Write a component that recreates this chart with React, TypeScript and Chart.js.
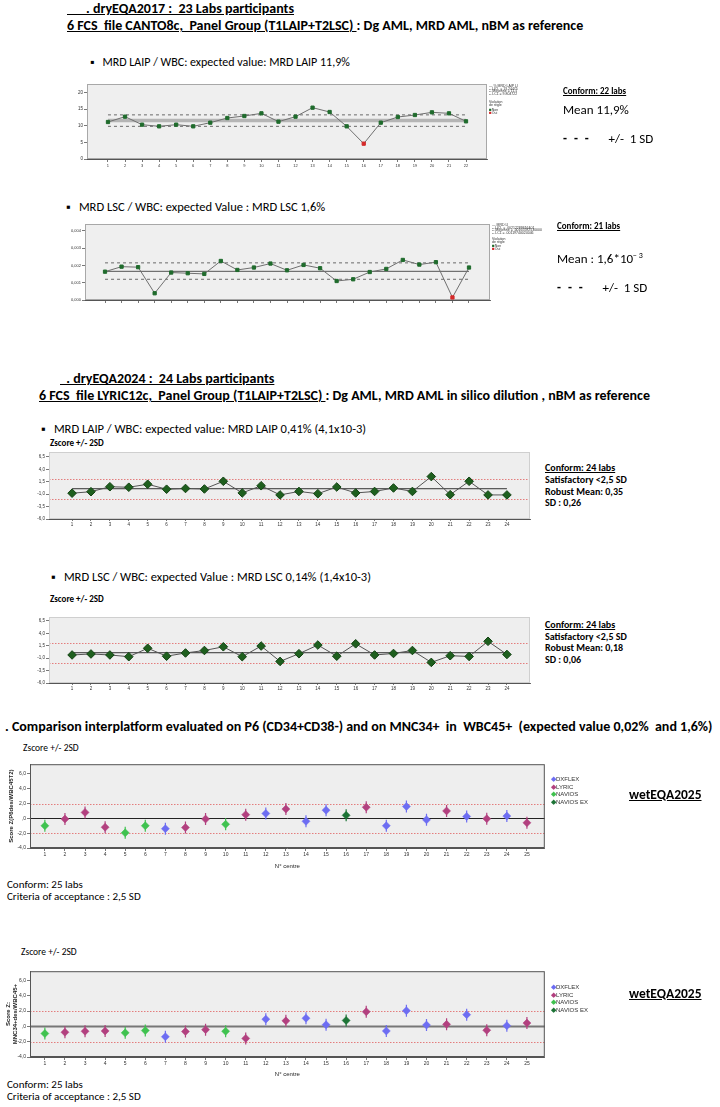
import React, { useEffect, useRef } from "react";
import { Chart, registerables } from "chart.js";
Chart.register(...registerables);

const FONT = "Carlito, 'Liberation Sans Narrow', 'DejaVu Sans Condensed', sans-serif";
const AXIS_FONT = "'Liberation Sans', Arial, sans-serif";

// ---------------- data: dryEQA2017 ----------------
const LAIP_2017 = [11.1, 12.7, 10.3, 9.8, 10.3, 9.8, 10.9, 12.3, 12.9, 13.7, 11.2, 12.7, 15.4, 14.1, 9.8, 4.6, 10.9, 12.6, 13.2, 14.0, 13.7, 11.3];
const LAIP_2017_VIOLATION = [16];
const LAIP_2017_MEAN = 11.52;
const LAIP_2017_UCL = 13.24;
const LAIP_2017_LCL = 9.8;
const LAIP_2017_Y_TICKS = [0, 5, 10, 15, 20];

const LSC_2017 = [0.00164, 0.00193, 0.0019, 0.00039, 0.00159, 0.00155, 0.00151, 0.00226, 0.00174, 0.00188, 0.00211, 0.00172, 0.00203, 0.00184, 0.0011, 0.0012, 0.00162, 0.0018, 0.00232, 0.00205, 0.00219, 0.00015, 0.00188];
const LSC_2017_VIOLATION = [22];
const LSC_2017_MEAN = 0.00166;
const LSC_2017_UCL = 0.00215;
const LSC_2017_LCL = 0.0012;
const LSC_2017_Y_TICKS = [0, 0.001, 0.002, 0.003, 0.004];

// ---------------- data: dryEQA2024 (z-scores) ----------------
const Z_LAIP_2024 = [-0.8, -0.5, 0.5, 0.4, 1.0, 0.0, 0.15, 0.05, 1.6, -0.75, 0.7, -1.15, -0.45, -0.9, 0.45, -0.75, -0.45, 0.25, -0.45, 2.55, -1.1, 1.6, -1.15, -1.15];
const Z_LAIP_2024_MEAN = 0.1;
const Z_LSC_2024 = [-0.35, -0.15, -0.35, -0.7, 1.0, -0.6, 0.05, 0.55, 1.3, -0.7, 1.45, -1.65, -0.1, 1.65, -0.6, 1.9, -0.35, -0.05, 0.55, -1.85, -0.5, -0.65, 2.4, -0.25];
const Z_LSC_2024_MEAN = 0.1;
const Z_2024_Y_TICKS = [-6, -3.5, -1, 1.5, 4, 6.5];
const Z_LIMITS = [-2, 2];

// ---------------- data: wetEQA2025 ----------------
const PLATFORMS = ["DXFLEX", "LYRIC", "NAVIOS", "NAVIOS EX"];
const CENTRE_PLATFORM = ["NAVIOS", "LYRIC", "LYRIC", "LYRIC", "NAVIOS", "NAVIOS", "DXFLEX", "LYRIC", "LYRIC", "NAVIOS", "LYRIC", "DXFLEX", "LYRIC", "DXFLEX", "DXFLEX", "NAVIOS EX", "LYRIC", "DXFLEX", "DXFLEX", "DXFLEX", "LYRIC", "DXFLEX", "LYRIC", "DXFLEX", "LYRIC"];
const Z_P6 = [-1.0, -0.1, 0.8, -1.2, -1.95, -1.0, -1.4, -1.25, -0.1, -0.8, 0.5, 0.65, 1.25, -0.4, 1.1, 0.4, 1.5, -1.0, 1.6, -0.2, 1.0, 0.25, -0.05, 0.3, -0.6];
const Z_MNC34 = [-0.94, -0.77, -0.64, -0.6, -0.85, -0.55, -1.36, -0.68, -0.43, -0.64, -1.57, 0.94, 0.72, 1.06, 0.21, 0.77, 1.91, -0.6, 2.04, 0.17, 0.26, 1.53, -0.51, 0.09, 0.43];
const Z_2025_Y_TICKS = [-4, -2, 0, 2, 4, 6];

// ---------------- styles ----------------
const PLATFORM_COLOR: Record<string, string> = {
  DXFLEX: "#6d6df2",
  LYRIC: "#b2407f",
  NAVIOS: "#3fc24f",
  "NAVIOS EX": "#1d7436",
};

const pts = (values: number[]) => values.map((y, i) => ({ x: i + 1, y }));
const flat = (n: number, y: number) => [{ x: 1, y }, { x: n, y }];
const range = (n: number) => Array.from({ length: n }, (_, i) => i + 1);
const comma = (v: number, d: number) => v.toFixed(d).replace(".", ",");

const panelPlugin = {
  id: "panel",
  beforeDraw(chart: any, _a: any, o: any) {
    const { ctx, chartArea: a } = chart;
    ctx.save();
    ctx.fillStyle = o.bg;
    ctx.fillRect(a.left, a.top, a.right - a.left, a.bottom - a.top);
    ctx.restore();
  },
  beforeDatasetsDraw(chart: any, _a: any, o: any) {
    const { ctx, chartArea: a } = chart;
    const ys = chart.scales.y;
    ctx.save();
    (o.hlines || []).forEach((h: any) => {
      const y = Math.round(ys.getPixelForValue(h.value)) + 0.5;
      ctx.strokeStyle = h.color;
      ctx.lineWidth = h.width;
      ctx.setLineDash(h.dash || []);
      ctx.beginPath();
      ctx.moveTo(a.left, y);
      ctx.lineTo(a.right, y);
      ctx.stroke();
    });
    ctx.setLineDash([]);
    ctx.strokeStyle = o.border;
    ctx.lineWidth = 1;
    ctx.strokeRect(a.left + 0.5, a.top + 0.5, a.right - a.left - 1, a.bottom - a.top - 1);
    ctx.restore();
  },
};

type Spec = {
  w: number; h: number; padL: number;
  area: { l: number; t: number; r: number; b: number };
  xMin: number; xMax: number; xTicks: number[]; showX: boolean; xFont: number; xTickLen: number;
  yMin: number; yMax: number; yTicks: number[]; yFmt: (v: number) => string; yFont: number;
  yTitle?: string | string[]; xTitle?: string;
  bg: string; border: string; hlines: any[]; datasets: any[];
};

function makeConfig(s: Spec): any {
  return {
    type: "line",
    data: { datasets: s.datasets },
    options: {
      animation: false,
      responsive: false,
      maintainAspectRatio: false,
      devicePixelRatio: 1,
      layout: { padding: { left: s.padL, top: s.area.t, right: s.w - s.area.r, bottom: 0 } },
      plugins: {
        legend: { display: false },
        tooltip: { enabled: false },
        panel: { bg: s.bg, border: s.border, hlines: s.hlines },
      },
      scales: {
        x: {
          type: "linear",
          min: s.xMin,
          max: s.xMax,
          afterBuildTicks: (sc: any) => { sc.ticks = s.xTicks.map((v) => ({ value: v })); },
          afterFit: (sc: any) => { sc.height = s.h - s.area.b; },
          ticks: {
            display: s.showX, autoSkip: false, maxRotation: 0, minRotation: 0, padding: 1,
            font: { size: s.xFont, family: AXIS_FONT }, color: "#333",
            callback: (v: number) => String(v),
          },
          grid: { display: true, drawOnChartArea: false, drawTicks: true, tickLength: s.xTickLen, color: "#555", lineWidth: 0.8 },
          border: { display: true, color: "#555", width: 1 },
          title: s.xTitle
            ? { display: true, text: s.xTitle, font: { size: 6, family: AXIS_FONT }, color: "#222", padding: 0 }
            : { display: false },
        },
        y: {
          type: "linear",
          min: s.yMin,
          max: s.yMax,
          afterBuildTicks: (sc: any) => { sc.ticks = s.yTicks.map((v) => ({ value: v })); },
          afterFit: (sc: any) => { sc.width = s.area.l - s.padL; },
          ticks: {
            padding: 1, font: { size: s.yFont, family: AXIS_FONT }, color: "#333",
            callback: (v: number) => s.yFmt(v),
          },
          grid: { display: true, drawOnChartArea: false, drawTicks: true, tickLength: 3, color: "#555", lineWidth: 0.8 },
          border: { display: true, color: "#555", width: 1 },
          title: s.yTitle
            ? { display: true, text: s.yTitle, font: { size: 6, weight: "bold", family: AXIS_FONT }, color: "#222", padding: 0 }
            : { display: false },
        },
      },
    },
    plugins: [panelPlugin],
  };
}

function ChartCanvas({ x, y, spec }: { x: number; y: number; spec: Spec }) {
  const ref = useRef<HTMLCanvasElement>(null);
  useEffect(() => {
    const c = new Chart(ref.current as HTMLCanvasElement, makeConfig(spec));
    return () => c.destroy();
  }, []);
  return (
    <canvas ref={ref} width={spec.w} height={spec.h}
      style={{ position: "absolute", left: x, top: y, width: spec.w, height: spec.h }} />
  );
}

// ---------- chart specs ----------
const GREEN = "#1f6b2c";
const RED = "#d42a2a";

function controlChart(values: number[], viol: number[], mean: number, ucl: number, lcl: number, meanStyle: any) {
  const n = values.length;
  return [
    {
      data: pts(values), borderColor: "#707070", borderWidth: 1, pointStyle: "rect", pointRadius: 2.3,
      pointBackgroundColor: (c: any) => (viol.includes(c.dataIndex + 1) ? RED : GREEN),
      pointBorderColor: (c: any) => (viol.includes(c.dataIndex + 1) ? RED : GREEN),
      tension: 0,
    },
    { data: flat(n, ucl), borderColor: "#6a6a6a", borderWidth: 1, borderDash: [3, 3], pointRadius: 0 },
    { data: flat(n, lcl), borderColor: "#6a6a6a", borderWidth: 1, borderDash: [3, 3], pointRadius: 0 },
    { data: flat(n, mean), pointRadius: 0, ...meanStyle },
  ];
}

const spec1: Spec = {
  w: 440, h: 92, padL: 0, area: { l: 32, t: 6, r: 432, b: 81 },
  xMin: -0.23, xMax: 23.23, xTicks: range(LAIP_2017.length), showX: true, xFont: 4, xTickLen: 3,
  yMin: 0, yMax: 22.5, yTicks: LAIP_2017_Y_TICKS, yFmt: (v) => String(v), yFont: 4.5,
  bg: "#efefef", border: "#a8a8a8", hlines: [],
  datasets: controlChart(LAIP_2017, LAIP_2017_VIOLATION, LAIP_2017_MEAN, LAIP_2017_UCL, LAIP_2017_LCL, { borderColor: "#b5b5b5", borderWidth: 3.5 }),
};

const spec2: Spec = {
  w: 440, h: 90, padL: 0, area: { l: 30, t: 6, r: 435, b: 82 },
  xMin: -0.21, xMax: 24.27, xTicks: range(LSC_2017.length), showX: false, xFont: 4, xTickLen: 3,
  yMin: 0, yMax: 0.0044, yTicks: LSC_2017_Y_TICKS, yFmt: (v) => comma(v, 3), yFont: 4,
  bg: "#efefef", border: "#a8a8a8", hlines: [],
  datasets: controlChart(LSC_2017, LSC_2017_VIOLATION, LSC_2017_MEAN, LSC_2017_UCL, LSC_2017_LCL, { borderColor: "#555", borderWidth: 1 }),
};

function zChart(values: number[], mean: number) {
  return [
    {
      data: pts(values), borderColor: "#555", borderWidth: 1, pointStyle: "rectRot", pointRadius: 4.3,
      pointBackgroundColor: "#1e5f1e", pointBorderColor: "#134313", pointBorderWidth: 1,
    },
    { data: flat(values.length, mean), borderColor: "#333", borderWidth: 1, pointRadius: 0 },
  ];
}

const redLines = Z_LIMITS.map((v) => ({ value: v, color: "#e06060", width: 0.8, dash: [1.5, 1.5] }));

const spec3: Spec = {
  w: 512, h: 82, padL: 0, area: { l: 24, t: 6, r: 505, b: 73 },
  xMin: -0.22, xMax: 25.22, xTicks: range(Z_LAIP_2024.length), showX: true, xFont: 4.5, xTickLen: 2,
  yMin: -6, yMax: 7.5, yTicks: Z_2024_Y_TICKS, yFmt: (v) => comma(v, 1), yFont: 4.5,
  bg: "#eeeeee", border: "#cfcfcf", hlines: redLines,
  datasets: zChart(Z_LAIP_2024, Z_LAIP_2024_MEAN),
};

const spec4: Spec = {
  w: 512, h: 81, padL: 0, area: { l: 24, t: 6, r: 505, b: 72 },
  xMin: -0.22, xMax: 25.22, xTicks: range(Z_LSC_2024.length), showX: true, xFont: 4.5, xTickLen: 2,
  yMin: -6, yMax: 7.3, yTicks: Z_2024_Y_TICKS, yFmt: (v) => comma(v, 1), yFont: 4.5,
  bg: "#eeeeee", border: "#cfcfcf", hlines: redLines,
  datasets: zChart(Z_LSC_2024, Z_LSC_2024_MEAN),
};

function platformSets(values: number[]) {
  const out: any[] = [];
  PLATFORMS.forEach((p) => {
    const data = values.map((y, i) => ({ x: i + 1, y, p: CENTRE_PLATFORM[i] })).filter((d) => d.p === p);
    const col = PLATFORM_COLOR[p];
    out.push({ data, showLine: false, pointStyle: "rectRot", pointRadius: 4, pointBackgroundColor: col, pointBorderColor: col, pointBorderWidth: 0.5 });
    out.push({ data, showLine: false, pointStyle: "line", pointRotation: 90, pointRadius: 6, pointBorderColor: col, pointBorderWidth: 1.2 });
  });
  return out;
}

const spec5: Spec = {
  w: 552, h: 113, padL: 8, area: { l: 30, t: 6, r: 548, b: 91 },
  xMin: 0.26, xMax: 25.89, xTicks: range(Z_P6.length), showX: true, xFont: 5, xTickLen: 3,
  yMin: -4, yMax: 7.3, yTicks: Z_2025_Y_TICKS, yFmt: (v) => (v === 0 ? ",0" : comma(v, 1)), yFont: 5,
  yTitle: "Score Z(P6des/WBC45T2)", xTitle: "N° centre",
  bg: "#eeeeee", border: "#555", hlines: [...redLines, { value: 0, color: "#222", width: 1 }],
  datasets: platformSets(Z_P6),
};

const spec6: Spec = {
  w: 552, h: 114, padL: 5, area: { l: 30, t: 6, r: 548, b: 93 },
  xMin: 0.26, xMax: 25.89, xTicks: range(Z_MNC34.length), showX: true, xFont: 5, xTickLen: 3,
  yMin: -4, yMax: 7.2, yTicks: Z_2025_Y_TICKS, yFmt: (v) => (v === 0 ? ",0" : comma(v, 1)), yFont: 5,
  yTitle: ["Score Z:", "MNC34+des/WBC45+"], xTitle: "N° centre",
  bg: "#eeeeee", border: "#555", hlines: [...redLines, { value: 0, color: "#777", width: 2 }],
  datasets: platformSets(Z_MNC34),
};

// ---------- text helpers ----------
function T({ x, y, size, bold, children, style }: any) {
  return (
    <div style={{
      position: "absolute", left: x, top: y - size * 0.62, fontSize: size, lineHeight: `${size * 1.2}px`,
      fontWeight: bold ? 700 : 400, whiteSpace: "pre", ...style,
    }}>{children}</div>
  );
}

function Tiny({ x, y, lines }: { x: number; y: number; lines: [number, string, string?][] }) {
  return (
    <div style={{ position: "absolute", left: x, top: y, transform: "scale(0.5)", transformOrigin: "0 0", fontFamily: AXIS_FONT, fontSize: 7, color: "#333" }}>
      {lines.map(([dy, t, c], i) => (
        <div key={i} style={{ position: "absolute", left: 0, top: dy * 2, whiteSpace: "pre", lineHeight: "7px" }}>
          {c ? <span style={{ color: c, fontSize: 9 }}>■</span> : null}{t}
        </div>
      ))}
    </div>
  );
}

function PlatformLegend({ x, y }: { x: number; y: number }) {
  return (
    <div style={{ position: "absolute", left: x, top: y, fontFamily: AXIS_FONT }}>
      {PLATFORMS.map((p, i) => (
        <div key={p} style={{ position: "absolute", left: 0, top: i * 7.6, whiteSpace: "pre", fontSize: 6, lineHeight: "7px", color: "#333" }}>
          <span style={{ color: PLATFORM_COLOR[p], fontSize: 7 }}>◆</span>{p}
        </div>
      ))}
    </div>
  );
}

const dash = <span style={{ fontWeight: 700, letterSpacing: 2 }}>- - -</span>;

export default function App() {
  return (
    <div style={{ position: "absolute", left: 0, top: 0, width: 720, height: 1107, background: "#fff", overflow: "hidden", fontFamily: FONT, color: "#000" }}>
      {/* dryEQA2017 */}
      <T x={67} y={10} size={14} bold><u>{"      . dryEQA2017 :  23 Labs participants"}</u></T>
      <T x={67} y={27} size={14} bold><u>{"6 FCS  file CANTO8c,  Panel Group (T1LAIP+T2LSC) "}</u>{": Dg AML, MRD AML, nBM as reference"}</T>
      <T x={90} y={62} size={12}>{"▪   MRD LAIP / WBC: expected value: MRD LAIP 11,9%"}</T>
      <ChartCanvas x={55} y={78} spec={spec1} />
      <Tiny x={489} y={84} lines={[[0, "— % MRD LAIP LI"], [2.6, "-- UCL = 13.24475"], [5.2, "-- Moyenne = 11.5"], [7.8, "-- LCL = 9.804722"], [16, "Violation"], [19, "de règle"], [24, "Non", GREEN], [27, "Oui", RED]]} />
      <T x={563} y={92} size={9} bold><u>Conform: 22 labs</u></T>
      <T x={563} y={110} size={13}>Mean 11,9%</T>
      <T x={563} y={139} size={13}>{dash}{"      +/-  1 SD"}</T>

      <T x={66} y={207} size={12.5}>{"▪   MRD LSC / WBC: expected Value : MRD LSC 1,6%"}</T>
      <ChartCanvas x={55} y={218} spec={spec2} />
      <Tiny x={492} y={223} lines={[[0, "— MRD LI"], [2.6, "-- UCL = .00212289616401"], [5.2, "-- Moyenne = .00165592530000"], [7.8, "-- LCL = .00119740024046"], [14, "Violation"], [17, "de règle"], [21, "Non", GREEN], [24, "Oui", RED]]} />
      <T x={557} y={227} size={9} bold><u>Conform: 21 labs</u></T>
      <T x={557} y={256} size={13}>Mean : 1,6*10<sup style={{ fontSize: 8 }}>− 3</sup></T>
      <T x={557} y={288} size={13}>{dash}{"      +/-  1 SD"}</T>

      {/* dryEQA2024 */}
      <T x={60} y={380} size={14} bold><u>{"  . dryEQA2024 :  24 Labs participants"}</u></T>
      <T x={39} y={397} size={14} bold><u>{"6 FCS  file LYRIC12c,  Panel Group (T1LAIP+T2LSC) "}</u>{": Dg AML, MRD AML in silico dilution , nBM as reference"}</T>
      <T x={41} y={429} size={12.5}>{"▪   MRD LAIP / WBC: expected value: MRD LAIP 0,41% (4,1x10-3)"}</T>
      <T x={50} y={444} size={9} bold>Zscore +/- 2SD</T>
      <ChartCanvas x={25} y={446} spec={spec3} />
      <T x={545} y={468} size={10} bold><u>Conform: 24 labs</u></T>
      <T x={545} y={480} size={10} bold>Satisfactory &lt;2,5 SD</T>
      <T x={545} y={492} size={10} bold>Robust Mean: 0,35</T>
      <T x={545} y={503} size={10} bold>SD : 0,26</T>

      <T x={51} y={577} size={12.5}>{"▪   MRD LSC / WBC: expected Value : MRD LSC 0,14% (1,4x10-3)"}</T>
      <T x={50} y={600} size={9} bold>Zscore +/- 2SD</T>
      <ChartCanvas x={25} y={611} spec={spec4} />
      <T x={545} y={625} size={10} bold><u>Conform: 24 labs</u></T>
      <T x={545} y={637} size={10} bold>Satisfactory &lt;2,5 SD</T>
      <T x={545} y={648} size={10} bold>Robust Mean: 0,18</T>
      <T x={545} y={660} size={10} bold>SD : 0,06</T>

      {/* wetEQA2025 */}
      <T x={5} y={728} size={14} bold>{". Comparison interplatform evaluated on P6 (CD34+CD38-) and on MNC34+  in  WBC45+  (expected value 0,02%  and 1,6%)"}</T>
      <T x={23} y={749} size={9.5}>Zscore +/- 2SD</T>
      <ChartCanvas x={0} y={757} spec={spec5} />
      <PlatformLegend x={551} y={775} />
      <T x={629} y={795} size={13.5} bold><u>wetEQA2025</u></T>
      <T x={7} y={885} size={11}>Conform: 25 labs</T>
      <T x={7} y={897} size={11}>Criteria of acceptance : 2,5 SD</T>

      <T x={21} y={953} size={9.5}>Zscore +/- 2SD</T>
      <ChartCanvas x={0} y={964} spec={spec6} />
      <PlatformLegend x={551} y={983} />
      <T x={629} y={994} size={13.5} bold><u>wetEQA2025</u></T>
      <T x={7} y={1085} size={11}>Conform: 25 labs</T>
      <T x={7} y={1097} size={11}>Criteria of acceptance : 2,5 SD</T>
    </div>
  );
}
